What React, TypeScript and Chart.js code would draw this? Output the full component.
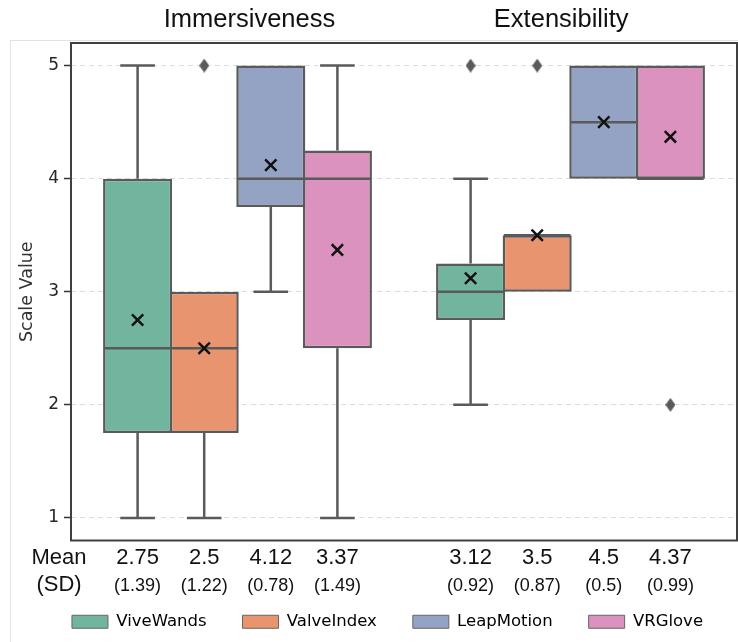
import React, { useEffect, useRef } from 'react';
import { Chart, registerables } from 'chart.js';

Chart.register(...registerables);

// ---------- data ----------
const groups = ['Immersiveness', 'Extensibility'];
const devices = ['ViveWands', 'ValveIndex', 'LeapMotion', 'VRGlove'];
const colors = ['#72b59f', '#e8956f', '#94a3c3', '#db92be'];

// each row: one device, [Immersiveness, Extensibility]
const whiskerLow = [[1, 2], [1, 3], [3, 4], [1, 4]];
const q1 = [[1.75, 2.75], [1.75, 3], [3.75, 4], [2.5, 4]];
const median = [[2.5, 3], [2.5, 3.5], [4, 4.5], [4, 4]];
const q3 = [[4, 3.25], [3, 3.5], [5, 5], [4.25, 5]];
const whiskerHigh = [[5, 4], [3, 3.5], [5, 5], [5, 5]];
const means = [[2.75, 3.12], [2.5, 3.5], [4.12, 4.5], [3.37, 4.37]];
const sds = [[1.39, 0.92], [1.22, 0.87], [0.78, 0.5], [1.49, 0.99]];
const outliers = [[[], [5]], [[5], [5]], [[], []], [[], [2]]];
const yTicks = [1, 2, 3, 4, 5];

// ---------- helpers ----------
const slot = devices.length + 1;
const xPos = (g: number, d: number) => g * slot + d + 1;
const CAP = 0.26;
const GRAY = '#5a5a5a';
const LW = 2.5;

function makeDiamond() {
  const c = document.createElement('canvas');
  c.width = 10;
  c.height = 14;
  const ctx = c.getContext('2d')!;
  ctx.fillStyle = GRAY;
  ctx.beginPath();
  ctx.moveTo(5, 0);
  ctx.lineTo(10, 7);
  ctx.lineTo(5, 14);
  ctx.lineTo(0, 7);
  ctx.closePath();
  ctx.fill();
  return c;
}

function buildDatasets() {
  const bars = devices.map((name, d) => ({
    type: 'bar' as const,
    label: name,
    data: groups.map((_, g) => ({ x: xPos(g, d), y: [q1[d][g], q3[d][g]] })),
    backgroundColor: colors[d],
    borderColor: GRAY,
    borderWidth: LW,
    borderSkipped: false,
    grouped: false,
    barPercentage: 1.037,
    categoryPercentage: 1,
    order: 4,
  }));

  const lines = devices.map((name, d) => {
    const pts: any[] = [];
    groups.forEach((_, g) => {
      const x = xPos(g, d);
      const gap = { x, y: null };
      if (whiskerLow[d][g] < q1[d][g]) {
        pts.push({ x, y: q1[d][g] }, { x, y: whiskerLow[d][g] }, gap);
        pts.push({ x: x - CAP, y: whiskerLow[d][g] }, { x: x + CAP, y: whiskerLow[d][g] }, gap);
      }
      if (whiskerHigh[d][g] > q3[d][g]) {
        pts.push({ x, y: q3[d][g] }, { x, y: whiskerHigh[d][g] }, gap);
        pts.push({ x: x - CAP, y: whiskerHigh[d][g] }, { x: x + CAP, y: whiskerHigh[d][g] }, gap);
      }
      pts.push({ x: x - 0.5, y: median[d][g] }, { x: x + 0.5, y: median[d][g] }, gap);
    });
    return {
      type: 'line' as const,
      label: name + ' whiskers',
      data: pts,
      borderColor: GRAY,
      borderWidth: LW,
      pointRadius: 0,
      spanGaps: false,
      fill: false,
      tension: 0,
      borderCapStyle: 'butt',
      order: 3,
    };
  });

  const diamond = makeDiamond();
  const outlierPts: any[] = [];
  devices.forEach((_, d) =>
    groups.forEach((_, g) => outliers[d][g].forEach((v) => outlierPts.push({ x: xPos(g, d), y: v })))
  );
  const outlierDs = {
    type: 'scatter' as const,
    label: 'outliers',
    data: outlierPts,
    pointStyle: diamond,
    pointRadius: 5,
    order: 2,
  };

  const meanPts: any[] = [];
  devices.forEach((_, d) => groups.forEach((_, g) => meanPts.push({ x: xPos(g, d), y: means[d][g] })));
  const meanDs = {
    type: 'scatter' as const,
    label: 'means',
    data: meanPts,
    pointStyle: 'crossRot',
    pointRadius: 8,
    pointBorderWidth: 2.5,
    pointBorderColor: '#111',
    pointBackgroundColor: 'rgba(0,0,0,0)',
    order: 1,
  };

  return [...bars, ...lines, outlierDs, meanDs];
}

const decorPlugin = {
  id: 'decor',
  afterLayout(chart: any) {
    const lg = chart.legend;
    if (lg) {
      lg.left += 19;
      lg.right += 19;
    }
  },
  beforeDraw(chart: any) {
    const ctx = chart.ctx;
    ctx.save();
    ctx.strokeStyle = '#e2e2e2';
    ctx.lineWidth = 1;
    ctx.beginPath();
    ctx.moveTo(10.5, chart.height);
    ctx.lineTo(10.5, 40.5);
    ctx.lineTo(chart.width, 40.5);
    ctx.stroke();
    ctx.restore();
  },
  afterDatasetsDraw(chart: any) {
    const { ctx, chartArea: a } = chart;
    ctx.save();
    ctx.strokeStyle = '#404040';
    ctx.lineWidth = 2;
    ctx.strokeRect(a.left, a.top, a.right - a.left, a.bottom - a.top);
    ctx.restore();
  },
  afterDraw(chart: any) {
    const { ctx, chartArea: a } = chart;
    const xs = chart.scales.x;
    ctx.save();
    ctx.fillStyle = '#111';
    ctx.textAlign = 'center';
    ctx.textBaseline = 'alphabetic';
    // group titles
    ctx.font = '25.5px "Liberation Sans", Arial, sans-serif';
    const titleOffsets = [0.18, -0.14];
    groups.forEach((g, gi) => {
      const cx = xs.getPixelForValue(gi * slot + (devices.length + 1) / 2 + titleOffsets[gi]);
      ctx.fillText(g, cx, 27);
    });
    // mean / sd labels
    const yMean = a.bottom + 23;
    const ySd = a.bottom + 50;
    ctx.font = '22px "Liberation Sans", Arial, sans-serif';
    ctx.fillText('Mean', 59, yMean);
    ctx.fillText('(SD)', 59, ySd);
    devices.forEach((_, d) =>
      groups.forEach((_, g) => {
        const cx = xs.getPixelForValue(xPos(g, d));
        ctx.font = '22px "Liberation Sans", Arial, sans-serif';
        ctx.fillText(String(means[d][g]), cx, yMean);
        ctx.font = '18px "Liberation Sans", Arial, sans-serif';
        ctx.fillText('(' + String(sds[d][g]) + ')', cx, ySd);
      })
    );
    ctx.restore();
  },
};

export default function App() {
  const ref = useRef<HTMLCanvasElement | null>(null);

  useEffect(() => {
    if (!ref.current) return;
    const chart = new Chart(ref.current, {
      type: 'bar',
      data: { datasets: buildDatasets() as any },
      options: {
        animation: false,
        responsive: false,
        maintainAspectRatio: false,
        devicePixelRatio: 1,
        layout: { autoPadding: false, padding: { top: 43, right: 1, bottom: 2, left: 0 } },
        plugins: {
          tooltip: { enabled: false },
          legend: {
            display: true,
            position: 'bottom',
            labels: {
              boxWidth: 36,
              boxHeight: 13,
              padding: 36,
              color: '#333',
              font: { family: '"DejaVu Sans", sans-serif', size: 16.5 },
              generateLabels: () =>
                devices.map((name, i) => ({
                  text: name,
                  fillStyle: colors[i],
                  strokeStyle: '#666',
                  lineWidth: 1,
                  hidden: false,
                  datasetIndex: i,
                })),
            },
          },
        },
        scales: {
          x: {
            type: 'linear',
            min: 0,
            max: groups.length * slot,
            offset: false,
            ticks: { display: false, stepSize: 1 },
            grid: { display: false },
            border: { display: false },
            afterFit: (s: any) => {
              s.height = 37;
            },
          },
          y: {
            type: 'linear',
            min: 0.8,
            max: 5.2,
            afterBuildTicks: (ax: any) => {
              ax.ticks = yTicks.map((v) => ({ value: v }));
            },
            ticks: {
              color: '#262626',
              padding: 5,
              font: { family: '"DejaVu Sans", sans-serif', size: 17 },
            },
            grid: {
              color: '#dcdcdc',
              lineWidth: 1,
              tickLength: 7,
              tickColor: '#333',
              tickWidth: 1.5,
            },
            border: { display: false, dash: [5, 4] },
            title: {
              display: true,
              text: 'Scale Value',
              color: '#333',
              font: { family: '"DejaVu Sans", sans-serif', size: 17.5 },
              padding: { top: 17, bottom: 0 },
            },
            afterFit: (s: any) => {
              s.width = 71;
            },
          },
        },
      },
      plugins: [decorPlugin],
    });
    return () => chart.destroy();
  }, []);

  return (
    <div style={{ position: 'absolute', left: 0, top: 0, width: 738, height: 642 }}>
      <canvas ref={ref} width={738} height={642} style={{ display: 'block' }} />
    </div>
  );
}
